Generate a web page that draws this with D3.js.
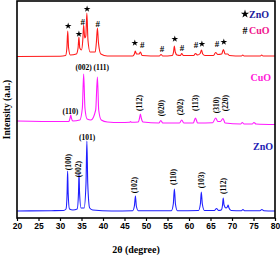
<!DOCTYPE html>
<html>
<head>
<meta charset="utf-8">
<script src="https://cdn.jsdelivr.net/npm/d3@7"></script>
<style>
  body { margin: 0; background: #fff; }
  svg { display: block; }
  .tick text { font-family: "Liberation Sans", Arial, sans-serif; font-weight: bold; font-size: 8.5px; }
  .lbl { font-family: "Liberation Serif", "Times New Roman", serif; font-weight: bold; }
</style>
</head>
<body>
<div id="viz"></div>
<script>
// 2theta (deg) vs intensity (a.u., stacked)
const znoPattern = [
  [20,7],[28,7.3],[30.8,7.5],[31.4,9],[31.65,25],[31.77,47],[31.9,25],[32.2,9],[33,8],[34.0,9],
  [34.3,25],[34.42,45],[34.55,25],[34.9,10],[35.6,10],[36.05,35],[36.25,77],[36.45,35],[36.9,10],
  [37.6,8],[42,7],[46.9,7.3],[47.3,12],[47.54,22],[47.75,12],[48.2,7.3],[55.9,7.3],[56.35,14],
  [56.6,29],[56.85,14],[57.3,7.3],[62.2,7.5],[62.65,14],[62.86,26],[63.1,14],[63.6,7.5],[65.9,7.5],
  [66.4,9.5],[66.9,7.5],[67.5,8],[67.8,13],[67.96,20],[68.15,13],[68.6,10],[68.9,11],[69.1,13],
  [69.3,10],[69.8,7.5],[72.2,7.3],[72.55,8.5],[72.9,7.3],[76.5,7.3],[76.95,8.5],[77.4,7.3],[80,7]
];
const cuoPattern = [
  [20,97],[30,96.5],[32.0,96.5],[32.35,100],[32.5,103],[32.65,100],[33.0,97],[34.6,98],[35.2,110],
  [35.5,144],[35.8,110],[36.3,99],[37.2,98],[38.3,108],[38.7,141],[39.0,108],[39.6,98],[41,96],
  [44,95.5],[46.2,95.8],[46.4,96.5],[46.6,95.8],[48.2,96],[48.5,100],[48.7,104],[48.9,100],[49.3,96],
  [53.0,95],[53.45,97.5],[53.9,95],[57.8,95],[58.3,98],[58.8,95],[61.0,95],[61.5,100],[62.0,95],
  [65.5,95.3],[66.2,100],[66.7,96.5],[67.3,96.5],[67.9,99.5],[68.4,95],[72.0,94],[72.4,95.5],
  [72.8,94],[74.7,94],[75.1,95.5],[75.6,94],[80,93.5]
];
const compositePattern = [
  [20,161.5],[30,161.8],[31.3,162.5],[31.6,170],[31.8,187],[32.0,170],[32.4,163],[33.8,164],
  [34.2,170],[34.4,181],[34.6,170],[35.0,168],[35.3,178],[35.5,193],[35.75,180],[36.0,182],
  [36.25,205],[36.5,178],[37.0,166],[38.2,166],[38.45,175],[38.7,190],[38.95,175],[39.5,164],
  [41,162],[46.9,162],[47.3,164],[47.5,167],[47.8,164],[48.4,164],[48.7,166],[49.1,162.5],
  [53.1,162],[53.5,163.5],[53.9,162],[56.1,162.5],[56.4,166],[56.6,172],[56.8,166],[57.2,163],
  [58.0,162.5],[58.3,164.5],[58.7,162.5],[61.1,162.5],[61.5,164.5],[62.0,163],[62.6,164.5],
  [62.9,168],[63.2,164],[63.7,162.5],[65.7,162.5],[66.2,165.5],[66.7,163.5],[67.6,164],[68.0,168.5],
  [68.4,164],[69.0,164],[69.4,162.5],[72.2,162],[72.5,163],[72.8,162],[76.6,162],[76.9,163],[77.2,162],[80,162]
];

// markers above the composite peaks: [2theta, a.u.]
const starMarks = [[31.9,192],[34.4,184],[36.3,209],[47.4,175],[56.7,179],[63.0,174],[68.1,176]];
const hashMarks = [[35.3,196],[38.8,194],[49.1,173],[53.7,169],[58.4,170],[61.6,173],[66.5,174]];

// Miller indices: [text, 2theta, a.u.]
const flatLabels = [["(002)",35.5,151],["(111)",39.6,151],["(110)",32.4,107],["(101)",36.3,81]];
const cuoLabels = [["(112)",48.6,115],["(020)",53.5,110],["(202)",58.1,111],["(113)",61.6,115],["(310)",66.5,113],["(220)",68.4,115]];
const znoLabels = [["(100)",31.9,56],["(002)",34.4,49],["(102)",47.4,33],["(110)",56.5,41],["(103)",63.0,38],["(112)",68.1,32]];

const xTicks = d3.range(20, 81, 5);

const W = 280, H = 255;
const margin = {top: 1, right: 5, bottom: 37, left: 17};
const width = W - margin.left - margin.right;
const height = H - margin.top - margin.bottom;

const svg = d3.select("#viz").append("svg")
  .attr("width", W)
  .attr("height", H);
const g = svg.append("g").attr("transform", `translate(${margin.left},${margin.top})`);

const x = d3.scaleLinear().domain([20, 80]).range([0, width]);
const y = d3.scaleLinear().domain([0, height]).range([height, 0]);

const line = d3.line()
  .x(d => x(d[0]))
  .y(d => y(d[1]))
  .curve(d3.curveMonotoneX);

g.append("path").datum(znoPattern).attr("fill", "none").attr("stroke", "#1f1fff").attr("stroke-width", 1.1).attr("d", line);
g.append("path").datum(cuoPattern).attr("fill", "none").attr("stroke", "#ff1aff").attr("stroke-width", 1.1).attr("d", line);
g.append("path").datum(compositePattern).attr("fill", "none").attr("stroke", "#ff1a1a").attr("stroke-width", 1.1).attr("d", line);

// axis
const xAxis = g.append("g")
  .attr("transform", `translate(0,${height})`)
  .call(d3.axisBottom(x).tickValues(xTicks).tickSize(3).tickPadding(2));
xAxis.select(".domain").remove();
xAxis.selectAll(".tick line").attr("stroke", "#000").attr("stroke-width", 1.2);

g.append("rect")
  .attr("width", width).attr("height", height)
  .attr("fill", "none").attr("stroke", "#000").attr("stroke-width", 1.6);

const star = d3.symbol().type(d3.symbolStar).size(14);
g.selectAll(".star").data(starMarks).enter().append("path")
  .attr("class", "star")
  .attr("d", star)
  .attr("transform", d => `translate(${x(d[0])},${y(d[1])})`)
  .attr("fill", "#000");
g.selectAll(".hash").data(hashMarks).enter().append("text")
  .attr("class", "lbl hash")
  .attr("x", d => x(d[0])).attr("y", d => y(d[1]))
  .attr("text-anchor", "middle").attr("dominant-baseline", "central")
  .attr("font-size", 9).text("#");

g.selectAll(".flat").data(flatLabels).enter().append("text")
  .attr("class", "lbl")
  .attr("x", d => x(d[1])).attr("y", d => y(d[2]))
  .attr("text-anchor", "middle").attr("dominant-baseline", "central")
  .attr("font-size", 7.5).text(d => d[0]);

g.selectAll(".rot").data(cuoLabels.concat(znoLabels)).enter().append("text")
  .attr("class", "lbl")
  .attr("transform", d => `translate(${x(d[1])},${y(d[2])}) rotate(-90)`)
  .attr("text-anchor", "middle").attr("dominant-baseline", "central")
  .attr("font-size", 7.5).text(d => d[0]);

// legend and curve names
g.append("path").attr("d", d3.symbol().type(d3.symbolStar).size(22)())
  .attr("transform", `translate(${width - 30},13)`).attr("fill", "#000");
g.append("text").attr("class", "lbl").attr("x", width - 26).attr("y", 13)
  .attr("dominant-baseline", "central").attr("font-size", 10).attr("fill", "#1c1c9c").text("ZnO");
g.append("text").attr("class", "lbl").attr("x", width - 30).attr("y", 29)
  .attr("text-anchor", "middle").attr("dominant-baseline", "central").attr("font-size", 10).text("#");
g.append("text").attr("class", "lbl").attr("x", width - 26).attr("y", 29)
  .attr("dominant-baseline", "central").attr("font-size", 10).attr("fill", "#f0148c").text("CuO");

g.append("text").attr("class", "lbl").attr("x", width - 4).attr("y", y(141))
  .attr("text-anchor", "end").attr("dominant-baseline", "central")
  .attr("font-size", 10).attr("fill", "#ff1ad9").text("CuO");
g.append("text").attr("class", "lbl").attr("x", width - 2).attr("y", y(72))
  .attr("text-anchor", "end").attr("dominant-baseline", "central")
  .attr("font-size", 10).attr("fill", "#1c1cb4").text("ZnO");

svg.append("text").attr("class", "lbl")
  .attr("x", 136).attr("y", 249)
  .attr("text-anchor", "middle").attr("dominant-baseline", "central")
  .attr("font-size", 10).text("2θ  (degree)");
svg.append("text").attr("class", "lbl")
  .attr("transform", `translate(7,${margin.top + height / 2}) rotate(-90)`)
  .attr("text-anchor", "middle").attr("dominant-baseline", "central")
  .attr("font-size", 9.5).text("Intensity (a.u.)");
</script>
</body>
</html>
